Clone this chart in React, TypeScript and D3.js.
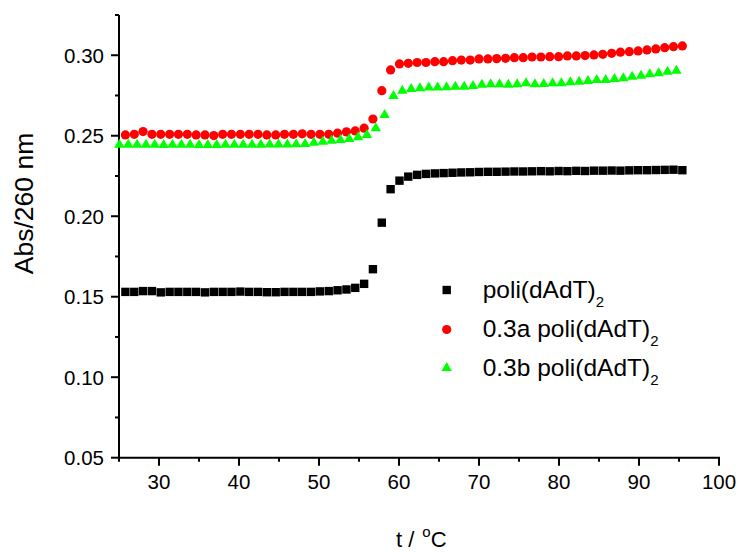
import React from "react";
import * as d3 from "d3";

// Temperatures (°C) for poli(dAdT)2 and 0.3a series
const tempsA = [
  25.8, 26.91, 28.01, 29.12, 30.22, 31.33, 32.43, 33.54, 34.64, 35.75, 36.85, 37.96, 39.06, 40.17, 41.27, 42.38,
  43.48, 44.59, 45.69, 46.8, 47.9, 49.01, 50.11, 51.22, 52.32, 53.43, 54.53, 55.64, 56.74, 57.85, 58.95, 60.06,
  61.16, 62.27, 63.37, 64.48, 65.58, 66.69, 67.79, 68.9, 70.0, 71.11, 72.21, 73.32, 74.42, 75.53, 76.63, 77.74,
  78.84, 79.95, 81.05, 82.16, 83.26, 84.37, 85.47, 86.58, 87.68, 88.79, 89.89, 91.0, 92.1, 93.21, 94.31, 95.42,
];
// Temperatures (°C) for 0.3b series
const tempsB = [
  25.05, 26.16, 27.26, 28.37, 29.47, 30.58, 31.68, 32.79, 33.89, 35.0, 36.1, 37.21, 38.31, 39.42, 40.52, 41.63,
  42.73, 43.84, 44.94, 46.05, 47.15, 48.26, 49.36, 50.47, 51.57, 52.68, 53.78, 54.89, 55.99, 57.1, 58.2, 59.31,
  60.41, 61.52, 62.62, 63.73, 64.83, 65.94, 67.04, 68.15, 69.25, 70.36, 71.46, 72.57, 73.67, 74.78, 75.88, 76.99,
  78.09, 79.2, 80.3, 81.41, 82.51, 83.62, 84.72, 85.83, 86.93, 88.04, 89.14, 90.25, 91.35, 92.46, 93.56, 94.67,
];

const absPoli = [
  0.153, 0.153, 0.1535, 0.1535, 0.1527, 0.153, 0.153, 0.153, 0.153, 0.1527, 0.153, 0.153, 0.153, 0.1532, 0.153, 0.153,
  0.1528, 0.1528, 0.153, 0.153, 0.153, 0.153, 0.1533, 0.1535, 0.154, 0.1545, 0.1555, 0.158, 0.1671, 0.196, 0.2168, 0.2221,
  0.2246, 0.2257, 0.2263, 0.2266, 0.2268, 0.227, 0.2272, 0.2273, 0.2275, 0.2276, 0.2276, 0.2277, 0.2278, 0.2278, 0.2279, 0.228,
  0.2279, 0.2281, 0.228, 0.2282, 0.2281, 0.2283, 0.2283, 0.2284, 0.2283, 0.2285, 0.2286, 0.2286, 0.2287, 0.2288, 0.2289, 0.2286,
];
const abs03a = [
  0.2505, 0.2509, 0.2526, 0.2509, 0.2509, 0.2509, 0.2509, 0.2509, 0.2505, 0.2505, 0.2501, 0.2509, 0.2509, 0.2509, 0.2509, 0.2509,
  0.2505, 0.2505, 0.2509, 0.2509, 0.2512, 0.2509, 0.2509, 0.2509, 0.2516, 0.2524, 0.253, 0.2547, 0.2604, 0.278, 0.2909, 0.2946,
  0.295, 0.2955, 0.2955, 0.296, 0.296, 0.2966, 0.297, 0.297, 0.2977, 0.2977, 0.2979, 0.2981, 0.2985, 0.2985, 0.2989, 0.2989,
  0.2991, 0.2991, 0.2996, 0.2996, 0.2998, 0.3002, 0.3006, 0.3012, 0.3019, 0.3022, 0.3027, 0.3033, 0.3039, 0.3047, 0.3053, 0.3058,
];
const abs03b = [
  0.2444, 0.2444, 0.2444, 0.2444, 0.2444, 0.2443, 0.2444, 0.2444, 0.2444, 0.2443, 0.2443, 0.2443, 0.2444, 0.2444, 0.2444, 0.2444,
  0.2444, 0.2445, 0.2445, 0.2446, 0.2447, 0.2449, 0.2457, 0.2463, 0.2469, 0.2474, 0.248, 0.2491, 0.2505, 0.2547, 0.2629, 0.2747,
  0.278, 0.2791, 0.2795, 0.2799, 0.2799, 0.2801, 0.2805, 0.2805, 0.2809, 0.2816, 0.282, 0.282, 0.2816, 0.282, 0.2826, 0.282,
  0.2822, 0.2826, 0.2826, 0.2832, 0.2836, 0.284, 0.2847, 0.2847, 0.2853, 0.2857, 0.2867, 0.2873, 0.2882, 0.2888, 0.2898, 0.2904,
];

const xTicks = [30, 40, 50, 60, 70, 80, 90, 100];
const xMinor = [25, 35, 45, 55, 65, 75, 85, 95];
const yTicks = [0.05, 0.1, 0.15, 0.2, 0.25, 0.3];
const yMinor = [0.075, 0.125, 0.175, 0.225, 0.275, 0.325];

const FONT = "Arial, 'Liberation Sans', Helvetica, sans-serif";

const sqPath = "M-4.2,-4.2H4.2V4.2H-4.2Z";
const triPath = "M0,-6L5.2,3L-5.2,3Z";

export default function App() {
  const W = 740, H = 553;
  const x = d3.scaleLinear().domain([25, 100]).range([119, 719]);
  const y = d3.scaleLinear().domain([0.05, 0.325]).range([457.7, 15]);
  const circ = d3.symbol().type(d3.symbolCircle).size(Math.PI * 4.6 * 4.6)() as string;

  const ptsPoli = tempsA.map((t, i) => [x(t), y(absPoli[i])]);
  const pts03a = tempsA.map((t, i) => [x(t), y(abs03a[i])]);
  const pts03b = tempsB.map((t, i) => [x(t), y(abs03b[i])]);

  const legend = [
    { label: "poli(dAdT)", pre: "", path: sqPath, color: "#000000", cy: 290 },
    { label: "poli(dAdT)", pre: "0.3a ", path: circ, color: "#ff0000", cy: 329.5 },
    { label: "poli(dAdT)", pre: "0.3b ", path: triPath, color: "#00ff00", cy: 368 },
  ];

  return (
    <svg width={W} height={H} style={{ position: "absolute", left: 0, top: 0, background: "#fff" }} fontFamily={FONT}>
      <rect x={0} y={0} width={W} height={H} fill="#fff" />
      {/* axes */}
      <line x1={119} x2={119} y1={y(0.325)} y2={y(0.05)} stroke="#000" strokeWidth={2} />
      <line x1={118} x2={x(100) + 1} y1={y(0.05)} y2={y(0.05)} stroke="#000" strokeWidth={2} />
      {yTicks.map((v) => (
        <g key={"yt" + v}>
          <line x1={111} x2={119} y1={y(v)} y2={y(v)} stroke="#000" strokeWidth={2} />
          <text x={104} y={y(v)} dy="0.36em" textAnchor="end" fontSize={20.5}>
            {d3.format(".2f")(v)}
          </text>
        </g>
      ))}
      {yMinor.map((v) => (
        <line key={"ym" + v} x1={115} x2={119} y1={y(v)} y2={y(v)} stroke="#000" strokeWidth={2} />
      ))}
      {xTicks.map((v) => (
        <g key={"xt" + v}>
          <line x1={x(v)} x2={x(v)} y1={y(0.05)} y2={y(0.05) + 8} stroke="#000" strokeWidth={2} />
          <text x={x(v)} y={489} textAnchor="middle" fontSize={20.5}>
            {v}
          </text>
        </g>
      ))}
      {xMinor.map((v) => (
        <line key={"xm" + v} x1={x(v)} x2={x(v)} y1={y(0.05)} y2={y(0.05) + 4} stroke="#000" strokeWidth={2} />
      ))}
      {/* axis titles */}
      <text transform="translate(33,203.5) rotate(-90)" textAnchor="middle" fontSize={26.5}>
        Abs/260 nm
      </text>
      <text x={396} y={546.7} fontSize={22}>
        <tspan>t /</tspan>
        <tspan dx={8} dy={-10} fontSize={15}>o</tspan>
        <tspan dy={10}>C</tspan>
      </text>
      {/* data */}
      {ptsPoli.map(([px, py], i) => (
        <path key={"p" + i} d={sqPath} transform={`translate(${px},${py})`} fill="#000" />
      ))}
      {pts03a.map(([px, py], i) => (
        <path key={"a" + i} d={circ} transform={`translate(${px},${py})`} fill="#ff0000" />
      ))}
      {pts03b.map(([px, py], i) => (
        <path key={"b" + i} d={triPath} transform={`translate(${px},${py})`} fill="#00ff00" />
      ))}
      {/* legend */}
      {legend.map((l, i) => (
        <g key={"lg" + i}>
          <path d={l.path} transform={`translate(446.7,${l.cy})`} fill={l.color} />
          <text x={482.7} y={l.cy + 7.5} fontSize={24.5}>
            <tspan>{l.pre + l.label}</tspan>
            <tspan dy={9} fontSize={15}>2</tspan>
          </text>
        </g>
      ))}
    </svg>
  );
}
